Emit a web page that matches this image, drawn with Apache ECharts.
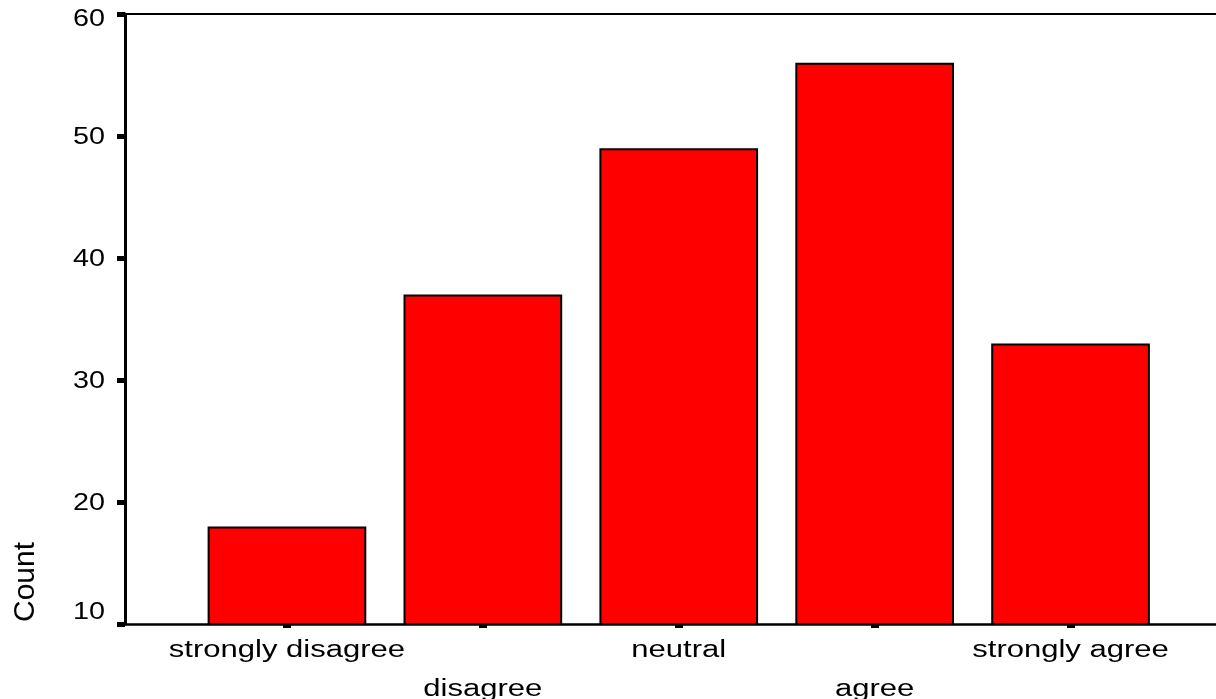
<!DOCTYPE html>
<html>
<head>
<meta charset="utf-8">
<script src="https://cdn.jsdelivr.net/npm/echarts@6/dist/echarts.min.js"></script>
<style>
html,body{margin:0;padding:0;background:#fff;}
#chart{width:1216px;height:699px;}
</style>
</head>
<body>
<div id="chart"></div>
<script>
var categories = ['strongly disagree', 'disagree', 'neutral', 'agree', 'strongly agree'];
var counts = [18, 37, 49, 56, 33];
var yTicks = [10, 20, 30, 40, 50, 60];
var yTitle = 'Count';

var FONT = 'Liberation Sans';
var yMax = yTicks[yTicks.length - 1];
var chart = echarts.init(document.getElementById('chart'), null, {renderer: 'canvas'});
var option = {
  backgroundColor: '#ffffff',
  animation: false,
  grid: [
    {left: 125, right: 0, top: 14, bottom: 75, containLabel: false, outerBoundsMode: 'none'},
    {left: 189, right: 47.5, top: 14, bottom: 75, containLabel: false, outerBoundsMode: 'none'}
  ],
  xAxis: [
    {gridIndex: 0, type: 'value', min: 0, max: 1, position: 'bottom',
     axisLine: {show: true, lineStyle: {color: '#000', width: 2.5}},
     axisTick: {show: false}, axisLabel: {show: false}, splitLine: {show: false}},
    {gridIndex: 0, type: 'value', min: 0, max: 1, position: 'top',
     axisLine: {show: true, lineStyle: {color: '#000', width: 2}},
     axisTick: {show: false}, axisLabel: {show: false}, splitLine: {show: false}},
    {gridIndex: 1, type: 'category', data: categories, position: 'bottom',
     boundaryGap: true,
     axisLine: {show: false},
     axisTick: {show: true, alignWithLabel: true, length: 4, lineStyle: {color: '#000', width: 8}},
     axisLabel: {
       interval: 0, margin: 7, color: '#000', fontFamily: FONT, fontSize: 23.5, lineHeight: 39,
       formatter: function (v, i) { return i % 2 === 1 ? '\n' + v : v; }
     },
     splitLine: {show: false}}
  ],
  yAxis: [
    {gridIndex: 0, type: 'value', min: yTicks[0], max: yMax, interval: 10,
     axisLine: {show: true, lineStyle: {color: '#000', width: 3}},
     axisTick: {show: true, length: 8, lineStyle: {color: '#000', width: 5}},
     axisLabel: {color: '#000', fontFamily: FONT, fontSize: 23, margin: 20,
                 padding: [3, 0, 0, 0],
                 verticalAlignMinLabel: 'bottom',
                 formatter: function (v) { return v === yMax ? '{top|' + v + '}' : String(v); },
                 rich: {top: {fontFamily: FONT, fontSize: 23, color: '#000', padding: [8, 0, 0, 0]}}},
     splitLine: {show: false}},
    {gridIndex: 1, type: 'value', min: yTicks[0], max: yMax, interval: 10,
     show: false, splitLine: {show: false}}
  ],
  graphic: [
    {type: 'text', x: 26, y: 582, rotation: Math.PI / 2,
     style: {text: yTitle, fill: '#000', font: '30px "' + FONT + '"', align: 'center', verticalAlign: 'middle'}}
  ],
  series: [
    {type: 'bar', xAxisIndex: 2, yAxisIndex: 1, data: counts,
     barCategoryGap: '19%',
     itemStyle: {color: '#ff0000', borderColor: '#000', borderWidth: 2}}
  ]
};
chart.setOption(option);

// The reference renders its axis labels with horizontally widened glyphs;
// widen the label text elements about their own anchor points.
try {
  var zr = chart.getZr();
  zr.storage.getRoots().forEach(function (root) {
    if (!root.traverse) return;
    root.traverse(function (el) {
      if (el.type === 'text' && el.style && el.style.text && el.style.text !== yTitle) {
        el.scaleX = el.style.align === 'right' ? 1.25 : 1.32;
        el.markRedraw && el.markRedraw();
      }
    });
  });
  zr.refreshImmediately();
} catch (e) {}
</script>
</body>
</html>
